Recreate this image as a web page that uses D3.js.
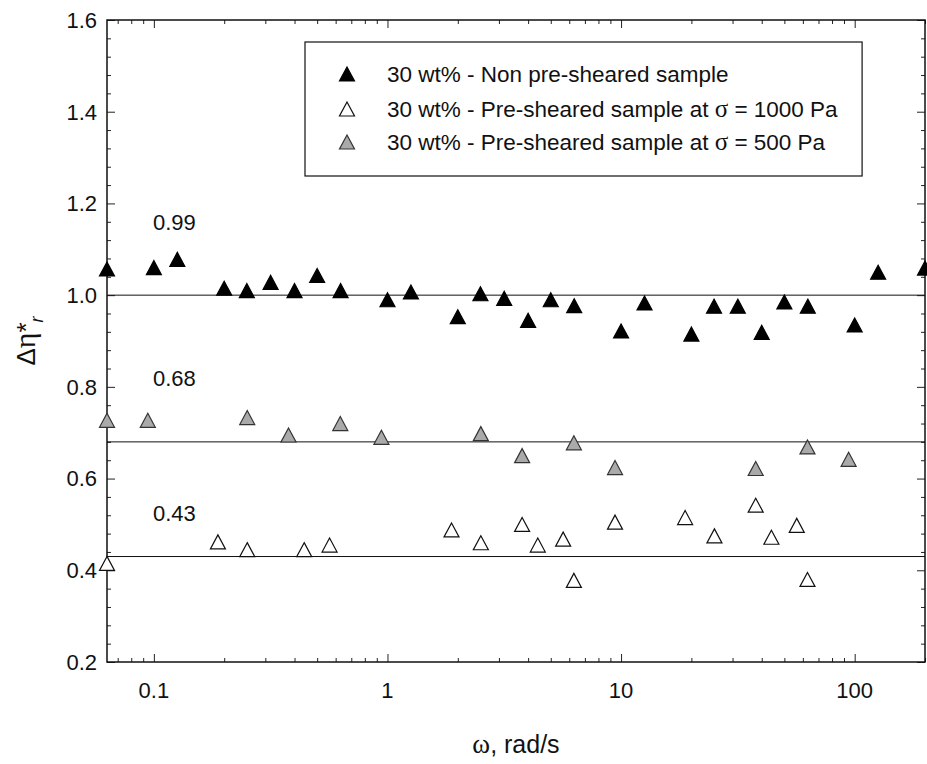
<!DOCTYPE html>
<html>
<head>
<meta charset="utf-8">
<script src="https://cdn.jsdelivr.net/npm/d3@7"></script>
<style>
  body { margin: 0; background: #fff; }
  svg { display: block; font-family: "Liberation Sans", Arial, sans-serif; }
</style>
</head>
<body>
<div id="chart"></div>
<script>
// --------------- Data ---------------
const blackOmega = [0.063, 0.1, 0.126, 0.2, 0.25, 0.316, 0.4, 0.5, 0.63, 1, 1.26, 2, 2.5, 3.16, 4, 5, 6.3, 10, 12.6, 20, 25, 31.6, 40, 50, 63, 100, 126, 200];
const blackEta = [1.057, 1.06, 1.078, 1.015, 1.01, 1.028, 1.01, 1.043, 1.01, 0.99, 1.007, 0.953, 1.003, 0.993, 0.945, 0.99, 0.977, 0.922, 0.983, 0.915, 0.976, 0.976, 0.919, 0.985, 0.976, 0.935, 1.05, 1.059];

const whiteOmega = [0.063, 0.188, 0.251, 0.44, 0.565, 1.88, 2.51, 3.77, 4.4, 5.65, 6.28, 9.42, 18.8, 25.1, 37.7, 44, 56.5, 62.8];
const whiteEta = [0.415, 0.462, 0.445, 0.445, 0.455, 0.488, 0.46, 0.5, 0.455, 0.468, 0.378, 0.505, 0.515, 0.475, 0.542, 0.472, 0.498, 0.38];

const greyOmega = [0.063, 0.0942, 0.251, 0.377, 0.628, 0.942, 2.51, 3.77, 6.28, 9.42, 37.7, 62.8, 94.2];
const greyEta = [0.727, 0.727, 0.733, 0.695, 0.72, 0.69, 0.698, 0.65, 0.678, 0.624, 0.622, 0.669, 0.642];

const refLevels = [0.99, 0.68, 0.43];
const refLineValues = [1.0, 0.68, 0.43];

const legendLabels = [
  "30 wt% - Non pre-sheared sample",
  "30 wt% - Pre-sheared sample at ",
  "30 wt% - Pre-sheared sample at "
];
const legendStress = ["", "1000 Pa", "500 Pa"];

const xTicks = [0.1, 1, 10, 100];
const yTicks = [0.2, 0.4, 0.6, 0.8, 1.0, 1.2, 1.4, 1.6];

// --------------- Constants ---------------
const WIDTH = 927;
const HEIGHT = 764;
const LEFT = 107, RIGHT = 925, TOP = 20, BOTTOM = 662;
const FONT = 22;
const LEGEND_FONT = 22.5;
const GREY_FILL = "#aaaaaa";

const svg = d3.select("#chart").append("svg")
  .attr("width", WIDTH)
  .attr("height", HEIGHT);

svg.append("rect").attr("width", WIDTH).attr("height", HEIGHT).attr("fill", "#fff");

const x = d3.scaleLog().domain([0.063, 200]).range([LEFT, RIGHT]);
const y = d3.scaleLinear().domain([0.2, 1.6]).range([BOTTOM, TOP]);

// triangle marker, centred on bounding box
const tri = (w, h) => `M0,${-h / 2}L${w / 2},${h / 2}L${-w / 2},${h / 2}Z`;

// --------------- Axes ---------------
const xMinor = [];
for (let e = -2; e <= 2; e++) {
  for (let m = 2; m <= 9; m++) {
    const v = m * Math.pow(10, e);
    if (v >= 0.063 && v <= 200) xMinor.push(v);
  }
}
const yMinor = d3.range(0.2, 1.6001, 0.04).filter(v => Math.abs(v * 5 - Math.round(v * 5)) > 1e-6);

function ticks(axisGen, values, size) {
  return axisGen.tickValues(values).tickSize(size).tickFormat("");
}

const axisG = svg.append("g").attr("class", "axes");

// bottom (inward ticks)
axisG.append("g").attr("transform", `translate(0,${BOTTOM})`)
  .call(ticks(d3.axisTop(x), xMinor, 4));
axisG.append("g").attr("transform", `translate(0,${BOTTOM})`)
  .call(ticks(d3.axisTop(x), xTicks, 8));
// top
axisG.append("g").attr("transform", `translate(0,${TOP})`)
  .call(ticks(d3.axisBottom(x), xMinor, 4));
axisG.append("g").attr("transform", `translate(0,${TOP})`)
  .call(ticks(d3.axisBottom(x), xTicks, 8));
// left
axisG.append("g").attr("transform", `translate(${LEFT},0)`)
  .call(ticks(d3.axisRight(y), yMinor, 4));
axisG.append("g").attr("transform", `translate(${LEFT},0)`)
  .call(ticks(d3.axisRight(y), yTicks, 8));
// right
axisG.append("g").attr("transform", `translate(${RIGHT},0)`)
  .call(ticks(d3.axisLeft(y), yMinor, 4));
axisG.append("g").attr("transform", `translate(${RIGHT},0)`)
  .call(ticks(d3.axisLeft(y), yTicks, 8));

axisG.selectAll(".domain").remove();
axisG.selectAll("line").attr("stroke", "#222").attr("stroke-width", 1);

svg.append("rect")
  .attr("x", LEFT).attr("y", TOP)
  .attr("width", RIGHT - LEFT).attr("height", BOTTOM - TOP)
  .attr("fill", "none").attr("stroke", "#111").attr("stroke-width", 1.5);

// tick labels
svg.append("g").selectAll("text")
  .data(yTicks)
  .enter().append("text")
  .attr("x", LEFT - 10)
  .attr("y", d => y(d))
  .attr("dy", "0.36em")
  .attr("text-anchor", "end")
  .attr("font-size", FONT)
  .attr("fill", "#111")
  .text(d => d.toFixed(1));

svg.append("g").selectAll("text")
  .data(xTicks)
  .enter().append("text")
  .attr("x", d => x(d))
  .attr("y", BOTTOM + 28)
  .attr("dy", "0.36em")
  .attr("text-anchor", "middle")
  .attr("font-size", FONT)
  .attr("fill", "#111")
  .text(d => d3.format("~g")(d));

// axis titles
const xTitle = svg.append("text")
  .attr("x", (LEFT + RIGHT) / 2)
  .attr("y", 753)
  .attr("text-anchor", "middle")
  .attr("font-size", 25)
  .attr("fill", "#111");
xTitle.append("tspan").attr("font-family", "Liberation Serif, serif").attr("font-size", 27).text("ω");
xTitle.append("tspan").text(", rad/s");

const yTitle = svg.append("text")
  .attr("transform", `translate(35,${(TOP + BOTTOM) / 2}) rotate(-90)`)
  .attr("text-anchor", "middle")
  .attr("font-size", 26)
  .attr("fill", "#111");
yTitle.append("tspan").text("Δ");
yTitle.append("tspan").attr("font-family", "Liberation Serif, serif").attr("font-size", 30).text("η");
yTitle.append("tspan").text("*");
yTitle.append("tspan").attr("font-style", "italic").attr("font-size", 18).attr("dy", 8).text("r");

// --------------- Reference lines ---------------
svg.append("g").selectAll("line")
  .data(refLineValues)
  .enter().append("line")
  .attr("x1", LEFT).attr("x2", RIGHT)
  .attr("y1", d => y(d)).attr("y2", d => y(d))
  .attr("stroke", "#111").attr("stroke-width", 1);

svg.append("g").selectAll("text")
  .data(refLevels)
  .enter().append("text")
  .attr("x", 153)
  .attr("y", (d, i) => y(refLineValues[i]) - [73, 64, 43][i])
  .attr("dy", "0.36em")
  .attr("font-size", FONT)
  .attr("fill", "#111")
  .text(d => d.toFixed(2));

// --------------- Markers ---------------
function drawSeries(omega, eta, fill, stroke) {
  svg.append("g").selectAll("path")
    .data(omega.map((w, i) => ({ w, v: eta[i] })))
    .enter().append("path")
    .attr("d", tri(15, 14))
    .attr("transform", d => `translate(${x(d.w)},${y(d.v)})`)
    .attr("fill", fill)
    .attr("stroke", stroke)
    .attr("stroke-width", 1.2)
    .attr("stroke-linejoin", "miter");
}

drawSeries(whiteOmega, whiteEta, "#fff", "#111");
drawSeries(greyOmega, greyEta, GREY_FILL, "#333");
drawSeries(blackOmega, blackEta, "#000", "#000");

// --------------- Legend ---------------
const legend = svg.append("g");
const legendBox = legend.append("rect")
  .attr("x", 305).attr("y", 42)
  .attr("height", 134)
  .attr("fill", "#fff").attr("stroke", "#111").attr("stroke-width", 1.2);

const legendStyles = [["#000", "#000"], ["#fff", "#111"], [GREY_FILL, "#333"]];
const legendY = [74, 109, 142];

let maxRight = 0;
legendLabels.forEach((label, i) => {
  legend.append("path")
    .attr("d", tri(15, 14))
    .attr("transform", `translate(347,${legendY[i]})`)
    .attr("fill", legendStyles[i][0])
    .attr("stroke", legendStyles[i][1])
    .attr("stroke-width", 1.2);
  const t = legend.append("text")
    .attr("x", 387)
    .attr("y", legendY[i])
    .attr("dy", "0.36em")
    .attr("font-size", LEGEND_FONT)
    .attr("fill", "#111")
    .text(label);
  if (legendStress[i]) {
    t.append("tspan").attr("font-family", "Liberation Serif, serif").attr("font-size", 25).text("σ");
    t.append("tspan").text(" = " + legendStress[i]);
  }
  const bb = t.node().getBBox();
  maxRight = Math.max(maxRight, bb.x + bb.width);
});
legendBox.attr("width", maxRight + 24 - 305);
</script>
</body>
</html>
